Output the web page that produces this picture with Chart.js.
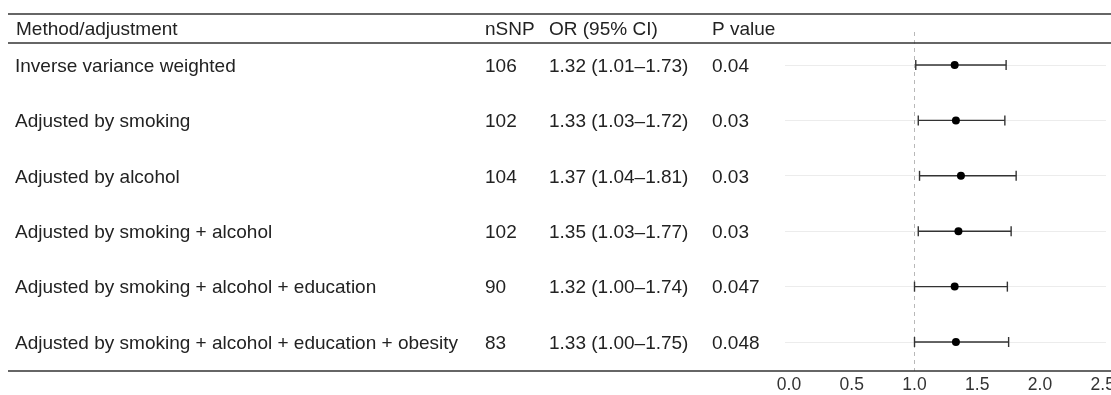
<!DOCTYPE html>
<html>
<head>
<meta charset="utf-8">
<script src="https://cdn.jsdelivr.net/npm/chart.js@4/dist/chart.umd.min.js"></script>
<style>
  html, body { margin: 0; padding: 0; background: #fff; overflow: hidden; }
  #wrap { width: 1125px; height: 395px; }
</style>
</head>
<body>
<div id="wrap"><canvas id="forest" width="1125" height="395"></canvas></div>
<script>
const headers = ['Method/adjustment', 'nSNP', 'OR (95% CI)', 'P value'];
const methods = [
    'Inverse variance weighted',
    'Adjusted by smoking',
    'Adjusted by alcohol',
    'Adjusted by smoking + alcohol',
    'Adjusted by smoking + alcohol + education',
    'Adjusted by smoking + alcohol + education + obesity'
];
const nSnp = [106, 102, 104, 102, 90, 83];
const oddsRatio = [1.32, 1.33, 1.37, 1.35, 1.32, 1.33];
const ciLower = [1.01, 1.03, 1.04, 1.03, 1.00, 1.00];
const ciUpper = [1.73, 1.72, 1.81, 1.77, 1.74, 1.75];
const pValues = ['0.04', '0.03', '0.03', '0.03', '0.047', '0.048'];
const xTicks = [0, 0.5, 1, 1.5, 2, 2.5];
const refValue = 1;

const FONT = "'Liberation Sans', Arial, Helvetica, sans-serif";
const TEXT_SIZE = 19;
const INK = '#222';
const RULE = '#333';
const Y_MIN = 0.404;
const Y_MAX = 6.523;

// column x positions for the table part
const colX = [15, 485, 549, 712];

function orText(i) {
    return oddsRatio[i].toFixed(2) + ' (' + ciLower[i].toFixed(2) + '\u2013' + ciUpper[i].toFixed(2) + ')';
}

const tablePlugin = {
    id: 'forestTable',
    afterDraw(chart) {
        const ctx = chart.ctx;
        const y = chart.scales.y;
        const w = chart.width;
        ctx.save();
        // rules
        ctx.strokeStyle = RULE;
        ctx.lineWidth = 1.6;
        [14, 43, 371].forEach(ly => {
            ctx.beginPath();
            ctx.moveTo(8, ly);
            ctx.lineTo(w, ly);
            ctx.stroke();
        });
        // header
        ctx.fillStyle = INK;
        ctx.font = TEXT_SIZE + 'px ' + FONT;
        ctx.textBaseline = 'middle';
        ctx.textAlign = 'left';
        headers.forEach((h, k) => ctx.fillText(h, colX[k] + (k === 0 ? 1 : 0), 30));
        // rows
        methods.forEach((m, i) => {
            const py = y.getPixelForValue(i + 1) + 1.5;
            ctx.fillText(m, colX[0], py);
            ctx.fillText(String(nSnp[i]), colX[1], py);
            ctx.fillText(orText(i), colX[2], py);
            ctx.fillText(pValues[i], colX[3], py);
        });
        ctx.restore();
    }
};

const whiskerSets = methods.map((m, i) => ({
    label: m,
    data: [{ x: ciLower[i], y: i + 1 }, { x: ciUpper[i], y: i + 1 }],
    showLine: true,
    borderColor: RULE,
    borderWidth: 1.4,
    pointStyle: 'line',
    rotation: 90,
    pointRadius: 5,
    pointBorderWidth: 1.4,
    pointBorderColor: RULE
}));

const config = {
    type: 'scatter',
    data: {
        datasets: [
            {
                label: 'OR',
                data: oddsRatio.map((v, i) => ({ x: v, y: i + 1 })),
                pointRadius: 4,
                pointBackgroundColor: '#000',
                pointBorderColor: '#000',
                pointBorderWidth: 0
            },
            ...whiskerSets,
            {
                label: 'ref',
                data: [{ x: refValue, y: Y_MIN }, { x: refValue, y: Y_MAX }],
                showLine: true,
                borderColor: '#b8b8b8',
                borderWidth: 1,
                borderDash: [4, 4],
                pointRadius: 0
            }
        ]
    },
    options: {
        responsive: false,
        animation: false,
        devicePixelRatio: 1,
        layout: { padding: { left: 785, right: 19, top: 32, bottom: 0 } },
        plugins: { legend: { display: false }, tooltip: { enabled: false } },
        scales: {
            x: {
                type: 'linear',
                min: -0.032,
                max: 2.526,
                afterBuildTicks: axis => { axis.ticks = xTicks.map(v => ({ value: v })); },
                afterFit: axis => { axis.height = 24; },
                grid: { display: false, drawTicks: false },
                border: { display: false },
                ticks: {
                    font: { family: FONT, size: 17.5 },
                    color: '#333',
                    padding: 4,
                    maxRotation: 0,
                    autoSkip: false,
                    callback: v => Number(v).toFixed(1)
                }
            },
            y: {
                type: 'linear',
                reverse: true,
                min: Y_MIN,
                max: Y_MAX,
                afterBuildTicks: axis => { axis.ticks = methods.map((m, i) => ({ value: i + 1 })); },
                grid: { color: '#ececec', lineWidth: 1, drawTicks: false },
                border: { display: false },
                ticks: { display: false }
            }
        }
    },
    plugins: [tablePlugin]
};

new Chart(document.getElementById('forest'), config);
</script>
</body>
</html>
